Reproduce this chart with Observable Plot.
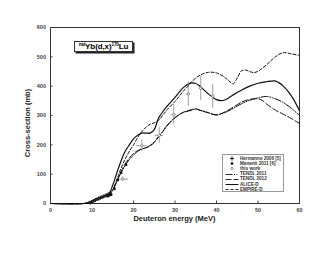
<!DOCTYPE html>
<html><head><meta charset="utf-8">
<script src="https://cdn.jsdelivr.net/npm/d3@7"></script>
<script src="https://cdn.jsdelivr.net/npm/@observablehq/plot@0.6"></script>
<style>
body{margin:0;background:#fff;font-family:"Liberation Sans",Arial,sans-serif;}
#wrap{position:relative;width:330px;height:255px;}
#title{position:absolute;left:74px;top:41px;width:57px;height:9px;border:1px solid #333;box-shadow:1.5px 1.5px 0 #222;background:#fff;font-weight:bold;font-size:8px;line-height:9px;text-align:center;white-space:nowrap;letter-spacing:-0.1px;}
#title sup{font-size:4.5px;vertical-align:3px;line-height:0;}
#legend{position:absolute;left:222px;top:154px;width:60px;height:36px;border:0.7px solid #999;background:#fff;font-size:4.6px;font-weight:bold;color:#333;}
#legend .row{position:absolute;left:2px;height:5px;line-height:5px;white-space:nowrap;}
#legend svg{vertical-align:middle;}
</style></head>
<body><div id="wrap"></div>
<script>
// ---- data ----
const alice = [[0,0],[8,0],[9,3],[10,8],[11,13],[12,18],[13,24],[14,32],[15,62],[16,105],[17,145],[18,178],[19,200],[20,220],[21,233],[22,240],[23,240],[24,240],[25,252],[26,290],[27,312],[28,330],[30,362],[32,395],[34,411],[35,409],[36,400],[38,374],[40,354],[41,351],[42,353],[44,370],[46,386],[48,400],[50,410],[52,415],[54,418],[55,412],[56,402],[58,368],[60,317]];
const empire = [[0,0],[8,0],[9,2],[10,6],[11,11],[12,16],[13,22],[14,30],[15,47],[16,82],[17,120],[18,152],[19,178],[20,200],[21,225],[22,245],[23,260],[24,270],[25,275],[26,283],[27,300],[28,318],[30,348],[32,383],[33,398],[34,415],[36,437],[38,447],[40,445],[42,430],[43,418],[44,408],[45,428],[46,452],[47,455],[48,450],[49,446],[50,451],[52,472],[54,498],[56,514],[58,510],[60,505]];
const tendl2011 = [[0,0],[8,0],[9,3],[10,9],[11,14],[12,19],[13,24],[14,30],[15,45],[16,75],[17,105],[18,130],[19,150],[20,165],[21,178],[22,185],[23,190],[24,198],[25,210],[26,228],[27,245],[28,265],[30,293],[32,310],[34,318],[35,322],[36,318],[38,310],[40,302],[42,310],[44,324],[46,340],[48,352],[50,360],[52,365],[54,358],[56,345],[58,325],[60,300]];
const tendl2012 = [[0,0],[8,0],[9,3],[10,9],[11,14],[12,19],[13,24],[14,30],[15,46],[16,77],[17,108],[18,135],[19,155],[20,170],[21,180],[22,186],[23,190],[24,196],[25,208],[26,226],[27,244],[28,263],[30,292],[32,311],[34,320],[35,323],[36,318],[38,309],[40,302],[42,312],[44,328],[46,345],[48,355],[50,357],[51,352],[52,340],[54,320],[56,305],[58,290],[60,273]];
const hermanne = [[9.6,3],[10.0,6],[10.4,9],[10.8,12],[11.2,15],[11.6,17],[12.0,20],[12.4,22],[12.8,24],[13.2,27],[13.6,29],[14.0,32],[14.4,34]];
const manenti = [[13.8,25],[14.2,28],[14.6,30],[15.4,50],[16.2,80],[17.0,105],[18.2,132]];
const thisWork = [
  {e:17.4, v:83, de:1.4, dv:8},
  {e:22.0, v:197, de:1.3, dv:20},
  {e:26.2, v:232, de:1.0, dv:27},
  {e:29.7, v:303, de:0.6, dv:33},
  {e:33.2, v:373, de:0.5, dv:42},
  {e:36.2, v:393, de:0.4, dv:42},
  {e:39.1, v:366, de:0.4, dv:41}
];
const xTicks = [0,10,20,30,40,50,60];
const yTicks = [0,100,200,300,400,500,600];
const legendLabels = ["Hermanne 2006 [5]","Manenti 2011 [6]","this work","TENDL 2011","TENDL 2012","ALICE-D","EMPIRE-D"];

const ln = (d, dash, w) => Plot.line(d, {x:d=>d[0], y:d=>d[1], curve:"catmull-rom", stroke:"#111", strokeWidth:w, strokeDasharray:dash});

const chart = Plot.plot({
  width:330, height:255,
  marginLeft:50, marginRight:31, marginTop:27, marginBottom:52,
  x:{domain:[0,60]}, y:{domain:[0,600]},
  style:{fontFamily:"Liberation Sans, Arial, sans-serif", fontSize:"5.5px", fontWeight:"bold", color:"#444"},
  marks:[
    Plot.frame({stroke:"#333", strokeWidth:1}),
    Plot.axisX({ticks:xTicks, tickSize:-2.5, tickPadding:7, tickFormat:d=>d, label:null}),
    Plot.axisY({ticks:yTicks, tickSize:-2.5, tickPadding:7, tickFormat:d=>d, label:null}),
    ln(tendl2011, "7,1.5,1,1.5,1,1.5", 1),
    ln(tendl2012, "6,2.5", 1),
    ln(empire, "3,2", 1),
    ln(alice, null, 1.2),
    Plot.ruleY(thisWork, {y:"v", x1:d=>d.e-d.de, x2:d=>d.e+d.de, stroke:"#777", strokeWidth:0.7}),
    Plot.ruleX(thisWork, {x:"e", y1:d=>d.v-d.dv, y2:d=>d.v+d.dv, stroke:"#777", strokeWidth:0.7}),
    Plot.dot(thisWork, {x:"e", y:"v", r:1.2, stroke:"#555", fill:"white", strokeWidth:0.6}),
    Plot.dot(hermanne, {x:d=>d[0], y:d=>d[1], symbol:"cross", r:1.6, fill:"#222"}),
    Plot.dot(manenti, {x:d=>d[0], y:d=>d[1], symbol:"square", r:1.4, fill:"#111"})
  ]
});
const wrap = document.getElementById("wrap");
wrap.appendChild(chart);

// axis labels
const ax = document.createElement("div");
ax.style.cssText="position:absolute;left:0;top:214px;width:330px;padding-left:19px;box-sizing:border-box;text-align:center;font-size:7.5px;font-weight:bold;color:#222;";
ax.textContent="Deuteron energy (MeV)";
wrap.appendChild(ax);
const ay = document.createElement("div");
ay.style.cssText="position:absolute;left:27px;top:123px;transform:translate(-50%,-50%) rotate(-90deg);white-space:nowrap;font-size:7.5px;font-weight:bold;color:#222;";
ay.textContent="Cross-section (mb)";
wrap.appendChild(ay);

// title box
const t = document.createElement("div");
t.id="title";
t.innerHTML="<sup>nat</sup>Yb(d,x)<sup>170</sup>Lu";
wrap.appendChild(t);

// legend
const lg = document.createElement("div");
lg.id="legend";
const sym = [
  '<svg width="14" height="5"><path d="M7 0.5v4M5 2.5h4" stroke="#111" stroke-width="1"/></svg>',
  '<svg width="14" height="5"><rect x="5.8" y="1.3" width="2.4" height="2.4" fill="#111"/></svg>',
  '<svg width="14" height="5"><circle cx="7" cy="2.5" r="1.2" fill="white" stroke="#555" stroke-width="0.6"/></svg>',
  '<svg width="14" height="5"><line x1="0.5" y1="2.5" x2="13.5" y2="2.5" stroke="#111" stroke-width="0.9" stroke-dasharray="7,1.5,1,1.5,1,1.5"/></svg>',
  '<svg width="14" height="5"><line x1="0.5" y1="2.5" x2="13.5" y2="2.5" stroke="#111" stroke-width="0.9" stroke-dasharray="6,2"/></svg>',
  '<svg width="14" height="5"><line x1="0.5" y1="2.5" x2="13.5" y2="2.5" stroke="#111" stroke-width="1"/></svg>',
  '<svg width="14" height="5"><line x1="0.5" y1="2.5" x2="13.5" y2="2.5" stroke="#111" stroke-width="0.9" stroke-dasharray="3,2"/></svg>'
];
legendLabels.forEach((lab,i)=>{
  const r=document.createElement("div");
  r.className="row";
  r.style.top=(1+i*5.1)+"px";
  r.innerHTML=sym[i]+'<span style="margin-left:1px">'+lab+'</span>';
  lg.appendChild(r);
});
wrap.appendChild(lg);
</script></body></html>
